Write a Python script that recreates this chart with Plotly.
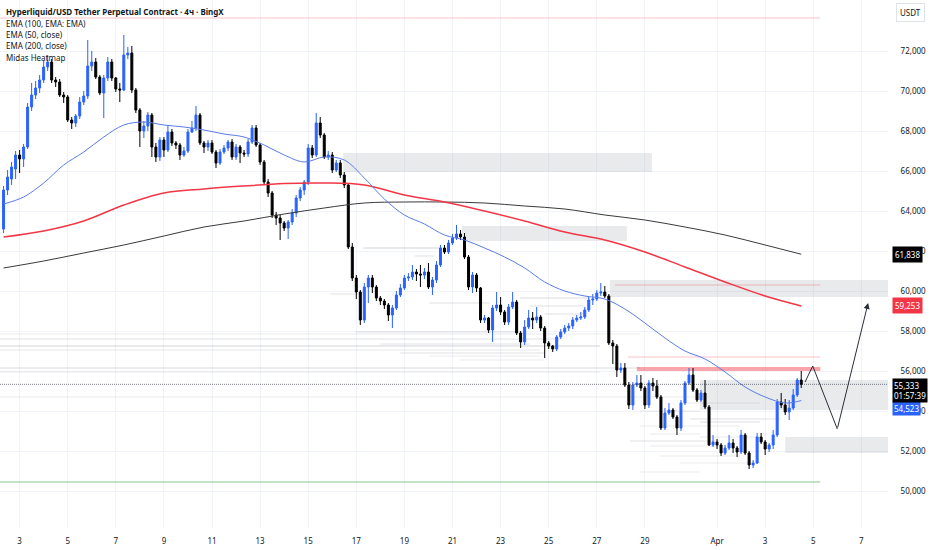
import pandas as pd
import plotly.graph_objects as go

# ---------------- data ----------------
first_candle = "2025-03-02 08:00"

opens = [63100, 65050, 65600, 66100, 66800, 66600, 67200, 69200, 69800, 70150,
         70550, 71200, 71450, 70550, 70450, 69800, 69700, 68550, 68400, 68750,
         69450, 69750, 71250, 71450, 70700, 69900, 70650, 71450, 70650, 70100,
         70050, 71800, 71900, 70050, 69050, 68000, 68250, 68800, 67200, 66700,
         67550, 67050, 67950, 67400, 67300, 66800, 67000, 67950, 68150, 68800,
         67400, 67200, 67400, 66950, 66400, 66950, 67150, 67450, 66700, 67200,
         66900, 66850, 67450, 68150, 67300, 66450, 65450, 64900, 63800, 63650,
         63400, 63150, 63450, 63900, 64650, 65050, 65450, 67150, 66800, 68400,
         67800, 66700, 66800, 66050, 66400, 65800, 65300, 62200, 60650, 59950,
         58550, 60200, 60650, 60200, 59650, 59500, 59300, 58800, 59150, 59800,
         60150, 60650, 60700, 60950, 60850, 60800, 60950, 60200, 60550, 61300,
         62150, 61950, 62400, 62650, 62850, 62700, 61700, 60200, 60800, 60150,
         58550, 58650, 58050, 59150, 59300, 58950, 58450, 59200, 59450, 57900,
         57450, 58200, 58650, 58550, 58700, 58150, 57400, 57250, 57100, 57700,
         57950, 58150, 58250, 58550, 58650, 58700, 59050, 59550, 59600, 59900,
         59950, 59750, 57400, 57250, 56050, 56150, 55300, 54300, 55300, 55400,
         55150, 54300, 55400, 55250, 54700, 53150, 53900, 54050, 53700, 53150,
         54400, 55400, 55800, 55050, 54550, 54900, 54200, 52300, 52450, 52300,
         51900, 52150, 52400, 52150, 51950, 52800, 51900, 51300, 51400, 52700,
         52450, 52100, 52300, 52800, 54450, 54300, 53950, 54150, 54800, 55550]

highs = [65250, 66050, 66450, 67000, 67050, 67350, 69400, 70400, 70500, 70800,
         71550, 71800, 71600, 70700, 70600, 69950, 69800, 68700, 68850, 69700,
         70000, 72550, 72000, 71650, 70800, 70800, 71700, 71600, 70700, 70400,
         72800, 72200, 72250, 70150, 69150, 68500, 68950, 68900, 67400, 67700,
         67700, 68300, 68100, 67500, 67400, 67200, 68100, 68500, 69250, 68900,
         67500, 67550, 67550, 67050, 67100, 67300, 67550, 67600, 67350, 67300,
         67050, 67600, 68300, 68300, 67400, 66550, 65600, 65000, 63950, 63800,
         63500, 63550, 64100, 64800, 65200, 65550, 67350, 67300, 68900, 68700,
         67900, 67000, 66950, 66550, 66550, 65950, 65400, 62400, 60800, 60050,
         60400, 60800, 60800, 60300, 59750, 59600, 59400, 59300, 60000, 60350,
         60800, 60900, 61300, 61100, 61300, 61150, 61400, 60700, 61500, 62300,
         62300, 62550, 62850, 63300, 63050, 62900, 61800, 60950, 60900, 60200,
         58800, 58700, 59300, 59950, 59700, 59050, 59350, 59950, 59550, 58000,
         58550, 59050, 58950, 59200, 58800, 58250, 57500, 57300, 57800, 58100,
         58300, 58400, 58700, 58800, 58950, 59200, 59700, 59850, 60050, 60400,
         60250, 59850, 57550, 57350, 56400, 56400, 55450, 55450, 55800, 55800,
         55250, 55550, 55650, 55550, 54800, 54150, 54400, 54150, 53800, 54550,
         55500, 56150, 56150, 55150, 55050, 55550, 54300, 52800, 52600, 52400,
         52300, 52800, 52600, 52250, 53050, 52900, 52000, 51550, 52900, 52900,
         52550, 52400, 53050, 54600, 54900, 54600, 54550, 55100, 55650, 56000]

lows = [62900, 64800, 65300, 65600, 65900, 66200, 67100, 69000, 69600, 69900,
        70400, 71000, 70400, 70200, 69700, 69400, 68450, 68100, 68200, 68600,
        69300, 69600, 71000, 70600, 69800, 68650, 70500, 70500, 69950, 69450,
        70000, 71600, 69900, 68900, 67200, 67650, 68000, 66700, 66450, 66500,
        66700, 66950, 67250, 67100, 66550, 66700, 66900, 67900, 68000, 67300,
        66900, 67000, 66850, 66150, 66300, 66850, 67000, 66550, 66550, 66400,
        66700, 66700, 67350, 67200, 66300, 65300, 64700, 63650, 63300, 62550,
        63000, 62600, 63300, 63700, 64500, 64800, 65300, 66650, 66700, 67650,
        66600, 66550, 65900, 65950, 65650, 65150, 62100, 60500, 59600, 58300,
        58400, 59400, 59900, 59500, 59300, 59100, 58500, 58150, 59050, 59700,
        60050, 60500, 60550, 60500, 60200, 60600, 60100, 59800, 60400, 61200,
        61850, 61850, 62300, 62550, 62550, 61600, 60050, 59900, 59950, 58400,
        58400, 57900, 57450, 59000, 58800, 58300, 58300, 59100, 57800, 57150,
        57300, 58100, 58100, 58400, 58000, 56650, 57100, 56950, 57000, 57600,
        57850, 58000, 58100, 58450, 58550, 58600, 58950, 59300, 59500, 59750,
        59650, 57300, 56350, 55700, 55900, 55200, 54100, 54050, 55200, 55000,
        54100, 54150, 55000, 54600, 53050, 53050, 53800, 53600, 52800, 53000,
        54300, 55300, 54950, 54450, 54450, 54100, 52250, 52200, 52100, 51750,
        51800, 52050, 51900, 51700, 51850, 51800, 51100, 51150, 51350, 52350,
        51800, 51950, 52100, 52700, 54150, 53800, 53550, 54050, 54700, 55150]

closes = [65050, 65700, 66200, 66800, 66600, 67200, 69200, 69800, 70150, 70550,
          71200, 71450, 70550, 70450, 69800, 69700, 68550, 68400, 68750, 69450,
          69750, 71250, 71450, 70700, 69900, 70650, 71450, 70650, 70100, 70050,
          71800, 71900, 70050, 69050, 68000, 68250, 68800, 67200, 66700, 67550,
          67050, 67950, 67400, 67300, 66800, 67000, 67950, 68150, 68800, 67400,
          67200, 67400, 66950, 66400, 66950, 67150, 67450, 66700, 67200, 66900,
          66850, 67450, 68150, 67300, 66450, 65450, 64900, 63800, 63650, 63400,
          63150, 63450, 63900, 64650, 65050, 65450, 67150, 66800, 68400, 67800,
          66700, 66800, 66050, 66400, 65800, 65300, 62200, 60650, 59950, 58550,
          60200, 60650, 60200, 59650, 59500, 59300, 58800, 59150, 59800, 60150,
          60650, 60700, 60950, 60850, 60800, 60950, 60200, 60550, 61300, 62150,
          61950, 62400, 62650, 62850, 62700, 61700, 60200, 60800, 60150, 58550,
          58650, 58050, 59150, 59300, 58950, 58450, 59200, 59450, 57900, 57450,
          58200, 58650, 58550, 58700, 58150, 57400, 57250, 57100, 57700, 57950,
          58150, 58250, 58550, 58650, 58700, 59050, 59550, 59600, 59900, 59950,
          59750, 57400, 57250, 56050, 56150, 55300, 54300, 55300, 55400, 55150,
          54300, 55400, 55250, 54700, 53150, 53900, 54050, 53700, 53150, 54400,
          55400, 55800, 55050, 54550, 54900, 54200, 52300, 52450, 52300, 51900,
          52150, 52400, 52150, 51950, 52800, 51900, 51300, 51400, 52700, 52450,
          52100, 52300, 52800, 54450, 54300, 53950, 54150, 54800, 55550, 55333]

# EMA lines, read at candle indices
ema50_idx = list(range(0, 200, 5)) + [199]
ema50_val = [64350, 64700, 65400, 66300, 66950, 67700, 68300, 68450, 68300, 68200,
             68050, 67850, 67700, 67300, 66800, 66450, 66700, 66550, 65650, 64600,
             63800, 63350, 62800, 62550, 62150, 61700, 61150, 60450, 60000, 59750,
             59600, 59100, 58400, 57650, 57000, 56600, 55950, 55200, 54700, 54400, 54523]
ema_long_idx = list(range(0, 200, 10)) + [199]
ema100_val = [62700, 63000, 63500, 64300, 64900, 65100, 65250, 65375, 65400, 65300,
              64800, 64450, 64000, 63500, 62950, 62550, 61950, 61200, 60450, 59750, 59253]
ema200_val = [61150, 61500, 61900, 62300, 62750, 63200, 63500, 63850, 64150, 64400,
              64450, 64450, 64400, 64250, 64100, 63800, 63550, 63200, 62800, 62300, 61838]

# time axis
x_view = ["2025-03-02 04:26", "2025-04-08 02:36"]
date_ticks = ["2025-03-03", "2025-03-05", "2025-03-07", "2025-03-09", "2025-03-11",
              "2025-03-13", "2025-03-15", "2025-03-17", "2025-03-19", "2025-03-21",
              "2025-03-23", "2025-03-25", "2025-03-27", "2025-03-29", "2025-04-01",
              "2025-04-03", "2025-04-05", "2025-04-07"]
date_labels = ["3", "5", "7", "9", "11", "13", "15", "17", "19", "21", "23", "25",
               "27", "29", "Apr", "3", "5", "7"]
price_view = [48150, 74550]
price_ticks = [50000, 52000, 54000, 56000, 58000, 60000, 62000, 64000, 66000, 68000, 70000, 72000]
price_labels = [f"{v:,}" for v in price_ticks]

# zones (gray boxes)
zone_t0 = ["2025-03-16 11:00", "2025-03-21 09:30", "2025-03-27 13:00", "2025-03-31 07:00", "2025-04-03 20:00"]
zone_t1 = ["2025-03-29 07:00", "2025-03-28 06:00", "2025-04-10 00:00", "2025-04-10 00:00", "2025-04-10 00:00"]
zone_lo = [65950, 62500, 59700, 54050, 51900]
zone_hi = [66900, 63250, 60550, 55550, 52700]

# level lines
level_price = [73650, 60300, 56700, 56100, 50450]
level_t0 = ["2025-03-01 00:00", "2025-03-27 18:00", "2025-03-28 07:00", "2025-03-28 16:00", "2025-03-01 00:00"]
level_t1 = ["2025-04-05 07:00"] * 5
level_kind = ["red", "red", "red", "redthick", "green"]

# Midas heatmap traces (price, start, end, strength)
heat_price = [57850, 57600, 57250, 57050, 56150, 55950, 54700,
              57950, 57350, 56900, 56750, 56550, 59650, 59250, 58850,
              62150, 61750, 59850, 59400,
              54400, 54000, 53600, 53450, 53250, 52850, 52700, 52500, 52250, 51750, 51400, 50950]
heat_t0 = ["2025-03-01 00:00"] * 7 + [
    "2025-03-16 23:00", "2025-03-18 00:00", "2025-03-18 20:00", "2025-03-20 01:00", "2025-03-21 07:00",
    "2025-03-23 19:00", "2025-03-24 05:00", "2025-03-24 20:00",
    "2025-03-17 07:00", "2025-03-19 10:00", "2025-03-15 22:00", "2025-03-20 01:00",
    "2025-03-30 11:00", "2025-03-28 19:00", "2025-03-30 21:00", "2025-03-31 07:00", "2025-03-28 19:00",
    "2025-03-29 05:00", "2025-03-31 07:00", "2025-03-28 09:00", "2025-03-29 05:00", "2025-03-29 15:00",
    "2025-03-30 11:00", "2025-03-28 19:00"]
heat_t1 = ["2025-03-28 19:00", "2025-03-25 11:00", "2025-03-27 03:00", "2025-03-24 15:00",
           "2025-03-28 19:00", "2025-03-27 03:00", "2025-03-31 07:00",
           "2025-03-23 19:00", "2025-03-24 05:00", "2025-03-24 20:00", "2025-03-24 15:00", "2025-03-24 20:00",
           "2025-03-26 17:00", "2025-03-26 12:00", "2025-03-26 12:00",
           "2025-03-20 11:00", "2025-03-20 06:00", "2025-03-17 04:00", "2025-03-22 13:00",
           "2025-04-02 19:00", "2025-03-31 07:00", "2025-04-03 15:00", "2025-04-02 19:00", "2025-04-01 23:00",
           "2025-03-31 07:00", "2025-04-02 19:00", "2025-04-01 03:00", "2025-04-01 13:00", "2025-04-01 23:00",
           "2025-04-02 19:00", "2025-03-31 07:00"]
heat_alpha = [0.10, 0.16, 0.22, 0.12, 0.18, 0.10, 0.10,
              0.14, 0.14, 0.14, 0.10, 0.10, 0.18, 0.14, 0.14,
              0.22, 0.14, 0.14, 0.14,
              0.10, 0.10, 0.14, 0.18, 0.10, 0.10, 0.10, 0.14, 0.10, 0.10, 0.10, 0.10]

# projected path
path_t = ["2025-04-04 15:50", "2025-04-04 23:30", "2025-04-06 00:00", "2025-04-07 06:45"]
path_p = [55450, 56250, 53100, 59400]

# right-axis tags (drawn in this order; later ones on top)
tag_price = [61838, 59253, 54523, 55333]
tag_text = ["61,838", "59,253", "54,523", "55,333<br>01:57:39"]
tag_bg = ["#000000", "#f23645", "#2962ff", "#000000"]
last_price = 55333

title_text = "Hyperliquid/USD Tether Perpetual Contract · 4ч · BingX"
legend_lines = ["EMA (100, EMA: EMA)", "EMA (50, close)", "EMA (200, close)", "Midas Heatmap"]

# ---------------- figure ----------------
UP = "#2962ff"
DOWN = "#000000"
TXT = "#131722"
GRID = "#f0f3fa"
FONT = "Noto Sans"
PLOT_H = 528

times = pd.date_range(first_candle, periods=len(closes), freq="4h")

fig = go.Figure()

fig.add_trace(go.Candlestick(
    x=times, open=opens, high=highs, low=lows, close=closes,
    increasing=dict(line=dict(color=UP, width=1), fillcolor=UP),
    decreasing=dict(line=dict(color=DOWN, width=1), fillcolor=DOWN),
    whiskerwidth=0, hoverinfo="skip", showlegend=False))

fig.add_trace(go.Scatter(x=[times[i] for i in ema_long_idx], y=ema200_val, mode="lines",
                         line=dict(color="#3a3a3a", width=1, shape="spline"),
                         hoverinfo="skip", showlegend=False))
fig.add_trace(go.Scatter(x=[times[i] for i in ema_long_idx], y=ema100_val, mode="lines",
                         line=dict(color="#f23645", width=1.5, shape="spline"),
                         hoverinfo="skip", showlegend=False))
fig.add_trace(go.Scatter(x=[times[i] for i in ema50_idx], y=ema50_val, mode="lines",
                         line=dict(color="#5a7ce6", width=1, shape="spline"),
                         hoverinfo="skip", showlegend=False))

fig.add_trace(go.Scatter(x=path_t[:3], y=path_p[:3], mode="lines",
                         line=dict(color="#2a2e39", width=1),
                         hoverinfo="skip", showlegend=False))

shapes = []
for t0, t1, lo, hi in zip(zone_t0, zone_t1, zone_lo, zone_hi):
    shapes.append(dict(type="rect", xref="x", yref="y", x0=t0, x1=t1, y0=lo, y1=hi,
                       fillcolor="rgba(120,123,134,0.16)", line=dict(width=0), layer="between"))
for p, t0, t1, a in zip(heat_price, heat_t0, heat_t1, heat_alpha):
    shapes.append(dict(type="line", xref="x", yref="y", x0=t0, x1=t1, y0=p, y1=p,
                       line=dict(color=f"rgba(120,123,134,{a})", width=1.5), layer="between"))
level_style = {"red": ("rgba(242,54,69,0.30)", 1),
               "redthick": ("rgba(242,54,69,0.45)", 4),
               "green": ("rgba(76,175,80,0.45)", 1.5)}
for p, t0, t1, k in zip(level_price, level_t0, level_t1, level_kind):
    c, w = level_style[k]
    shapes.append(dict(type="line", xref="x", yref="y", x0=t0, x1=t1, y0=p, y1=p,
                       line=dict(color=c, width=w), layer="between"))
shapes.append(dict(type="line", xref="paper", yref="y", x0=0, x1=1, y0=last_price, y1=last_price,
                   line=dict(color="rgba(19,23,34,0.55)", width=1, dash="1px,1px"), layer="above"))

annotations = []
annotations.append(dict(xref="x", yref="y", axref="x", ayref="y",
                        x=path_t[3], y=path_p[3], ax=path_t[2], ay=path_p[2],
                        showarrow=True, arrowhead=2, arrowsize=1.2, arrowwidth=1,
                        arrowcolor="#2a2e39", text=""))
annotations.append(dict(xref="paper", yref="paper", x=0, y=1 - 11.7 / PLOT_H, xshift=4,
                        xanchor="left", yanchor="middle", showarrow=False,
                        text=f"<b>{title_text}</b>", font=dict(family=FONT, size=8, color=TXT)))
for k, line in enumerate(legend_lines):
    annotations.append(dict(xref="paper", yref="paper", x=0, y=1 - (23.3 + 11.3 * k) / PLOT_H,
                            xshift=4, xanchor="left", yanchor="middle", showarrow=False,
                            text=line, font=dict(family=FONT, size=8, color=TXT)))

for p, txt, bg in zip(tag_price, tag_text, tag_bg):
    two_line = "<br>" in txt
    annotations.append(dict(xref="paper", yref="y", x=1, y=p, xshift=4,
                            yshift=6 if two_line else (-7.5 if p == 54523 else 0),
                            xanchor="left", yanchor="top" if two_line else "middle",
                            showarrow=False, text=txt, bgcolor=bg, align="left",
                            borderpad=1 if p in (54523, last_price) else 2,
                            font=dict(family=FONT, size=8, color="#ffffff")))
annotations.append(dict(xref="paper", yref="paper", x=1, y=1 - 12.5 / PLOT_H, xshift=8,
                        xanchor="left", yanchor="middle", showarrow=False, text="USDT",
                        bordercolor="#e0e3eb", borderwidth=1, borderpad=3, bgcolor="#ffffff",
                        font=dict(family=FONT, size=8, color=TXT)))

fig.update_layout(
    width=932, height=550,
    margin=dict(l=0, r=44, t=0, b=550 - PLOT_H),
    paper_bgcolor="#ffffff", plot_bgcolor="#ffffff",
    font=dict(family=FONT, size=8, color=TXT),
    showlegend=False, hovermode=False,
    shapes=shapes, annotations=annotations,
    xaxis=dict(type="date", range=x_view, tickvals=date_ticks, ticktext=date_labels,
               showgrid=True, gridcolor=GRID, gridwidth=1, zeroline=False, showline=False,
               ticks="outside", ticklen=5, tickcolor="rgba(0,0,0,0)",
               tickfont=dict(family=FONT, size=8, color=TXT),
               rangeslider=dict(visible=False), fixedrange=True),
    yaxis=dict(side="right", range=price_view, tickvals=price_ticks, ticktext=price_labels,
               showgrid=True, gridcolor=GRID, gridwidth=1, zeroline=False, showline=False,
               ticks="outside", ticklen=10, tickcolor="rgba(0,0,0,0)",
               tickfont=dict(family=FONT, size=8, color=TXT), fixedrange=True),
)

# remove the page's default body margin so the 932x550 figure fills the window exactly
page_fix = "document.body.style.margin='0px';document.body.style.overflow='hidden';"
fig.write_html("out.html", post_script=page_fix, config={"displayModeBar": False})
